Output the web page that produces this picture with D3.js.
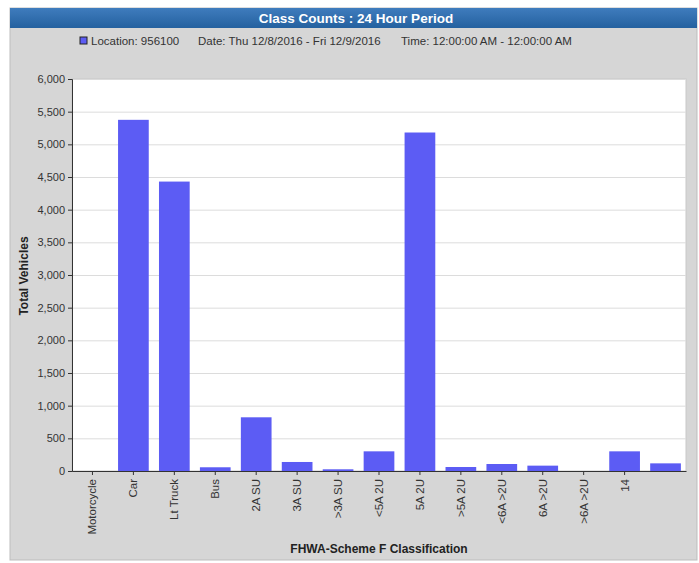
<!DOCTYPE html>
<html>
<head>
<meta charset="utf-8">
<script src="https://cdn.jsdelivr.net/npm/d3@7"></script>
<style>
	body { margin: 0; background: #fff; }
	text { font-family: "Liberation Sans", Arial, sans-serif; }
</style>
</head>
<body>
<script>
	// class counts
	var categories = ['Motorcycle', 'Car', 'Lt Truck', 'Bus', '2A SU', '3A SU', '>3A SU',
			'<5A 2U', '5A 2U', '>5A 2U', '<6A >2U', '6A >2U', '>6A >2U', '14', ''],
		counts = [0, 5375, 4430, 57, 822, 138, 26, 301, 5181, 61, 107, 82, 0, 301, 117],
		yTicks = [0, 500, 1000, 1500, 2000, 2500, 3000, 3500, 4000, 4500, 5000, 5500, 6000];

	var width = 699,
		height = 563,
		plot = {left: 72, right: 686, top: 79, bottom: 471},
		font = '"Liberation Sans", Arial, sans-serif';

	var svg = d3.select('body').append('svg')
		.attr('width', width)
		.attr('height', height);

	var defs = svg.append('defs');
	var grad = defs.append('linearGradient')
		.attr('id', 'titleGrad')
		.attr('x1', 0).attr('y1', 0).attr('x2', 0).attr('y2', 1);
	grad.append('stop').attr('offset', '0%').attr('stop-color', '#3f7cbd');
	grad.append('stop').attr('offset', '100%').attr('stop-color', '#24619f');

	// panel
	svg.append('rect')
		.attr('x', 10).attr('y', 8)
		.attr('width', 687).attr('height', 552)
		.attr('fill', '#d6d6d6')
		.attr('stroke', '#bdbdbd');
	svg.append('rect')
		.attr('x', 10).attr('y', 8)
		.attr('width', 687).attr('height', 20)
		.attr('fill', 'url(#titleGrad)');
	svg.append('text')
		.attr('x', 356).attr('y', 23)
		.attr('text-anchor', 'middle')
		.attr('fill', '#fff')
		.attr('font-weight', 'bold')
		.attr('font-size', 13.5)
		.text('Class Counts : 24 Hour Period');

	// legend line
	svg.append('rect')
		.attr('x', 80).attr('y', 37)
		.attr('width', 7).attr('height', 7)
		.attr('fill', '#5c5cf4')
		.attr('stroke', '#222');
	var legend = svg.append('g')
		.attr('font-size', 11.5)
		.attr('fill', '#333');
	legend.append('text').attr('x', 91).attr('y', 45).text('Location: 956100');
	legend.append('text').attr('x', 198).attr('y', 45).text('Date: Thu 12/8/2016 - Fri 12/9/2016');
	legend.append('text').attr('x', 401).attr('y', 45).text('Time: 12:00:00 AM - 12:00:00 AM');

	// plot area
	svg.append('rect')
		.attr('x', plot.left).attr('y', plot.top)
		.attr('width', plot.right - plot.left)
		.attr('height', plot.bottom - plot.top)
		.attr('fill', '#fff')
		.attr('stroke', '#c8c8c8');

	var x = d3.scaleBand()
		.domain(d3.range(categories.length))
		.range([plot.left, plot.right])
		.paddingInner(0.25)
		.paddingOuter(0.125);

	var y = d3.scaleLinear()
		.domain([0, 6000])
		.range([plot.bottom, plot.top]);

	svg.append('g')
		.selectAll('line')
		.data(yTicks.slice(1))
		.enter().append('line')
		.attr('x1', plot.left).attr('x2', plot.right)
		.attr('y1', function(d) { return y(d) + 0.5; })
		.attr('y2', function(d) { return y(d) + 0.5; })
		.attr('stroke', '#dcdcdc');

	svg.append('g')
		.selectAll('rect')
		.data(counts)
		.enter().append('rect')
		.attr('x', function(d, i) { return x(i); })
		.attr('y', function(d) { return y(d); })
		.attr('width', x.bandwidth())
		.attr('height', function(d) { return y(0) - y(d); })
		.attr('fill', '#5c5cf4')
		.append('title')
		.text(function(d, i) { return categories[i] + ' ' + d; });

	var yAxis = svg.append('g')
		.attr('transform', 'translate(' + plot.left + ',0)')
		.call(d3.axisLeft(y).tickValues(yTicks).tickSize(4).tickFormat(d3.format(',')));
	yAxis.selectAll('text').attr('font-size', 11).attr('fill', '#333')
		.style('font-family', font);
	yAxis.selectAll('line, path').attr('stroke', '#333');

	var xAxis = svg.append('g')
		.attr('transform', 'translate(0,' + plot.bottom + ')')
		.call(d3.axisBottom(x).tickSize(4).tickSizeOuter(0)
			.tickFormat(function(i) { return categories[i]; }));
	xAxis.selectAll('line, path').attr('stroke', '#333');
	// the last class has no label and no tick
	xAxis.selectAll('.tick').filter(function(i) { return categories[i] === ''; }).remove();
	xAxis.selectAll('text')
		.attr('font-size', 11.5)
		.attr('fill', '#333')
		.style('font-family', font)
		.attr('text-anchor', 'end')
		.attr('transform', 'rotate(-90)')
		.attr('x', -8)
		.attr('y', 0)
		.attr('dy', '0.35em');

	// axis titles
	svg.append('text')
		.attr('transform', 'translate(28,276) rotate(-90)')
		.attr('text-anchor', 'middle')
		.attr('font-weight', 'bold')
		.attr('font-size', 12)
		.attr('fill', '#222')
		.text('Total Vehicles');
	svg.append('text')
		.attr('x', 379).attr('y', 553)
		.attr('text-anchor', 'middle')
		.attr('font-weight', 'bold')
		.attr('font-size', 12)
		.attr('fill', '#222')
		.text('FHWA-Scheme F Classification');
</script>
</body>
</html>
